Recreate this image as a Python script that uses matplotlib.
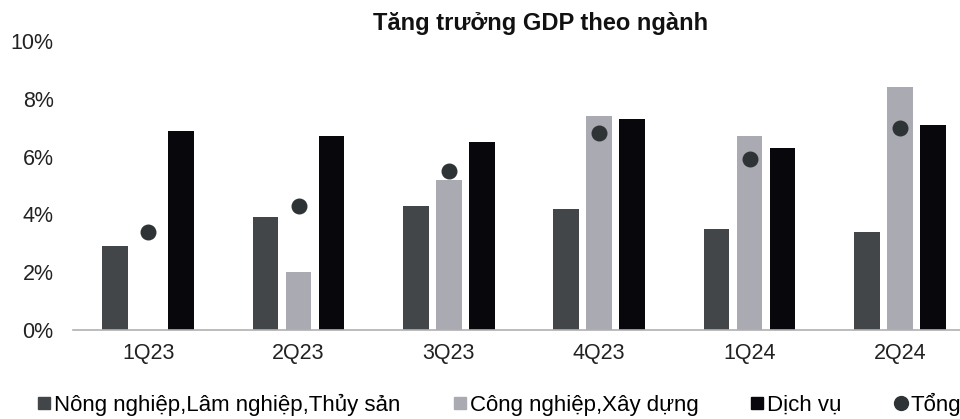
import matplotlib.pyplot as plt
import numpy as np
from matplotlib.lines import Line2D

plt.rcParams['font.family'] = ['Liberation Sans', 'DejaVu Sans']

quarters = ["1Q23", "2Q23", "3Q23", "4Q23", "1Q24", "2Q24"]
nong_nghiep = [2.9, 3.9, 4.3, 4.2, 3.5, 3.4]
cong_nghiep = [-0.4, 2.0, 5.2, 7.4, 6.7, 8.4]
dich_vu = [6.9, 6.7, 6.5, 7.3, 6.3, 7.1]
tong = [3.4, 4.3, 5.5, 6.8, 5.9, 7.0]

C_NN = "#424648"
C_CN = "#aaaab2"
C_DV = "#08080c"
C_TONG = "#2e3335"


def main():
    fig = plt.figure(figsize=(9.6, 4.19), dpi=100)
    ax = fig.add_axes([73 / 960, 89 / 419, 887 / 960, 289 / 419])

    x = np.arange(len(quarters))
    w = 0.17
    off = 0.22
    ax.bar(x - off, nong_nghiep, w, color=C_NN)
    ax.bar(x, cong_nghiep, w, color=C_CN)
    ax.bar(x + off, dich_vu, w, color=C_DV)
    ax.scatter(x, tong, s=110, color=C_TONG, zorder=3)

    ax.set_xlim(-0.5, 5.4)
    ax.set_ylim(0, 10)
    ax.set_yticks(range(0, 11, 2))
    ax.set_yticklabels([f"{v}%" for v in range(0, 11, 2)])
    ax.set_xticks(x)
    ax.set_xticklabels(quarters)
    ax.tick_params(length=0, labelsize=15.5, colors="#222222")
    ax.tick_params(axis="x", pad=9)
    ax.tick_params(axis="y", pad=14)
    for s in ["top", "right", "left"]:
        ax.spines[s].set_visible(False)
    ax.spines["bottom"].set_color("#b0b0b0")
    ax.spines["bottom"].set_linewidth(1.2)

    fig.text(0.5635, 0.945, "Tăng trưởng GDP theo ngành", ha="center",
             va="center", fontsize=17, fontweight="bold", color="#111111")

    handles = [
        Line2D([], [], marker="s", ls="", color=C_NN, markersize=8),
        Line2D([], [], marker="s", ls="", color=C_CN, markersize=8),
        Line2D([], [], marker="s", ls="", color=C_DV, markersize=8),
        Line2D([], [], marker="o", ls="", color=C_TONG, markersize=10),
    ]
    labels = ["Nông nghiệp,Lâm nghiệp,Thủy sản", "Công nghiệp,Xây dựng",
              "Dịch vụ", "Tổng"]
    fig.legend(handles, labels, loc="center left", bbox_to_anchor=(0.015, 0.035),
               ncol=4, frameon=False, fontsize=16, handletextpad=0.0,
               columnspacing=2.2, handlelength=0.9)

    fig.savefig("out.png", dpi=100)


if __name__ == "__main__":
    main()
